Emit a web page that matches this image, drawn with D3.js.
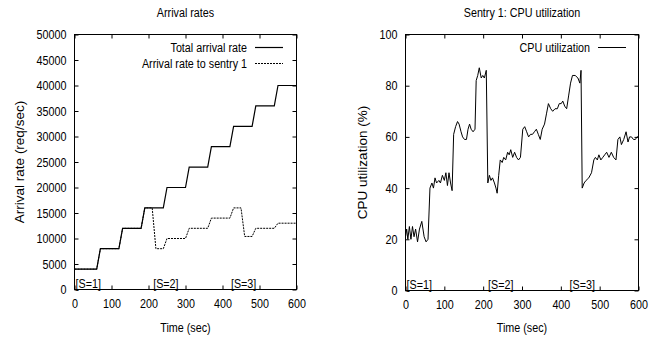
<!DOCTYPE html>
<html>
<head>
<meta charset="utf-8">
<script src="https://cdn.jsdelivr.net/npm/d3@7"></script>
<style>
  body { margin: 0; background: #fff; }
  svg text { font-family: "Liberation Sans", Arial, sans-serif; fill: #000; }
</style>
</head>
<body>
<div id="chart"></div>
<script>
// Arrival rates (req/sec), corner points of the step curves
const totalTimes = [0, 60, 70, 120, 130, 180, 190, 240, 250, 300, 310, 360, 370, 420, 430, 480, 490, 540, 550, 600];
const totalRate = [4000, 4000, 8000, 8000, 12000, 12000, 16000, 16000, 20000, 20000, 24000, 24000, 28000, 28000, 32000, 32000, 36000, 36000, 40000, 40000];

const sentryTimes = [0, 60, 70, 120, 130, 180, 190, 210, 220, 240, 250, 300, 310, 360, 370, 420, 430, 450, 460, 480, 490, 540, 550, 600];
const sentryRate = [4000, 4000, 8000, 8000, 12000, 12000, 16000, 16000, 8000, 8000, 10000, 10000, 12000, 12000, 14000, 14000, 16000, 16000, 10400, 10400, 12000, 12000, 13000, 13000];

// Sentry 1 CPU utilization (%)
const cpuTimes = [0, 3, 6, 10, 14, 18, 22, 26, 31, 36, 42, 48, 53, 58, 63, 68, 72, 76, 80, 86, 90, 95, 100, 104, 108, 112, 116, 120,
  124, 129, 134, 138, 143, 147, 152, 157, 161, 165, 169, 174, 179, 182, 186, 190, 195, 199, 203, 208,
  212, 216, 220, 224, 229, 233, 236, 240, 244, 249, 253, 258, 263, 267, 271, 276, 281, 286, 291, 296,
  302, 307, 312, 317, 322, 327, 332, 337, 342, 347, 352, 358, 363, 368, 374, 379, 385, 391, 396, 401, 405, 410, 415,
  420, 425, 430, 437, 444, 449, 452, 455, 460, 465, 472, 479, 485, 489, 494, 498, 503, 508, 513, 518, 524, 530, 536, 542,
  547, 552, 556, 562, 568, 573, 577, 582, 587, 592, 596, 600];
const cpuUtil = [21, 24, 20, 25, 20, 25, 21, 24, 19, 24, 27, 21, 19, 20, 40, 42, 40, 44, 42, 43, 42, 45, 43, 46, 41, 46, 42, 39,
  61, 64, 66, 65, 62, 60, 59, 59, 63, 65, 63, 62, 63, 82, 84, 87, 83, 84, 83, 86,
  42, 45, 43, 44, 42, 40, 38, 45, 51, 50, 52, 51, 54, 53, 55, 52, 54, 52, 51, 52,
  63, 64, 62, 60, 61, 61, 62, 63, 61, 59, 63, 65, 69, 73, 71, 70, 71, 71, 73, 73, 74, 72, 71,
  76, 81, 84, 84, 83, 81, 86, 40, 42, 43, 44, 46, 51, 52, 51, 53, 51, 52, 53, 54, 52, 54, 52, 51,
  59, 60, 57, 59, 62, 58, 60, 60, 59, 59, 60, 60];

// Phase labels along the bottom
const phaseLabels = ["[S=1]", "[S=2]", "[S=3]"];
const phaseTimes = [0, 210, 420];

const xTicks = [0, 100, 200, 300, 400, 500, 600];
const rateTicks = d3.range(0, 50001, 5000);
const cpuTicks = [0, 20, 40, 60, 80, 100];

const width = 665, height = 341;
const fontSize = "12.5px";
const svg = d3.select("#chart").append("svg")
  .attr("width", width)
  .attr("height", height);

function panel(o) {
  const x = d3.scaleLinear().domain([0, 600]).range([o.left, o.right]);
  const y = d3.scaleLinear().domain(o.yDomain).range([o.bottom, o.top]);
  const g = svg.append("g");

  // inward ticks on all four sides (gnuplot style)
  const tl = 4;
  g.append("g").attr("transform", `translate(0,${o.bottom})`)
    .call(d3.axisBottom(x).tickValues(xTicks).tickSizeInner(-tl).tickSizeOuter(0).tickPadding(10))
    .call(a => a.select(".domain").remove())
    .selectAll("text").style("font-size", fontSize);
  g.append("g").attr("transform", `translate(0,${o.top})`)
    .call(d3.axisTop(x).tickValues(xTicks).tickSizeInner(-tl).tickSizeOuter(0).tickFormat(""))
    .call(a => a.select(".domain").remove());
  g.append("g").attr("transform", `translate(${o.left},0)`)
    .call(d3.axisLeft(y).tickValues(o.yTicks).tickSizeInner(-tl).tickSizeOuter(0).tickPadding(8).tickFormat(d3.format("d")))
    .call(a => a.select(".domain").remove())
    .selectAll("text").style("font-size", fontSize);
  g.append("g").attr("transform", `translate(${o.right},0)`)
    .call(d3.axisRight(y).tickValues(o.yTicks).tickSizeInner(-tl).tickSizeOuter(0).tickFormat(""))
    .call(a => a.select(".domain").remove());

  g.append("rect")
    .attr("x", o.left).attr("y", o.top)
    .attr("width", o.right - o.left).attr("height", o.bottom - o.top)
    .attr("fill", "none").attr("stroke", "#000").attr("stroke-width", 1);

  // series
  const line = d3.line().x(d => x(d[0])).y(d => y(d[1]));
  o.series.forEach(s => {
    g.append("path")
      .datum(d3.zip(s.times, s.values))
      .attr("d", line)
      .attr("fill", "none")
      .attr("stroke", "#000")
      .attr("stroke-width", s.width)
      .attr("stroke-dasharray", s.dash || null);
  });

  // phase labels
  g.selectAll(".phase").data(phaseLabels).enter().append("text")
    .attr("class", "phase")
    .attr("x", (d, i) => x(phaseTimes[i]) + 1)
    .attr("y", o.bottom - 2)
    .style("font-size", fontSize)
    .text(d => d);

  // legend
  o.series.forEach((s, i) => {
    const ly = o.top + 13 + i * 16;
    g.append("text")
      .attr("x", o.legendX)
      .attr("y", ly + 4)
      .attr("text-anchor", "end")
      .style("font-size", fontSize)
      .text(s.name);
    g.append("line")
      .attr("x1", o.legendX + 8).attr("x2", o.legendX + 36)
      .attr("y1", ly).attr("y2", ly)
      .attr("stroke", "#000")
      .attr("stroke-width", s.width)
      .attr("stroke-dasharray", s.dash || null);
  });

  // titles
  g.append("text")
    .attr("x", (o.left + o.right) / 2).attr("y", 17)
    .attr("text-anchor", "middle")
    .style("font-size", fontSize)
    .text(o.title);
  g.append("text")
    .attr("x", (o.left + o.right) / 2).attr("y", 332)
    .attr("text-anchor", "middle")
    .style("font-size", fontSize)
    .text("Time (sec)");
  g.append("text")
    .attr("class", "ylabel")
    .attr("transform", `translate(${o.yLabelX},${(o.top + o.bottom) / 2}) rotate(-90)`)
    .attr("text-anchor", "middle")
    .style("font-size", "13.5px")
    .text(o.yLabel);
}

panel({
  left: 74.5, right: 296.5, top: 34.5, bottom: 289.5,
  yDomain: [0, 50000], yTicks: rateTicks,
  title: "Arrival rates", yLabel: "Arrival rate  (req/sec)", yLabelX: 24,
  legendX: 247,
  series: [
    { name: "Total arrival rate", times: totalTimes, values: totalRate, width: 1.2 },
    { name: "Arrival rate to sentry 1", times: sentryTimes, values: sentryRate, width: 1, dash: "2,1" }
  ]
});

panel({
  left: 405.5, right: 638.5, top: 34.5, bottom: 290.5,
  yDomain: [0, 100], yTicks: cpuTicks,
  title: "Sentry 1: CPU utilization", yLabel: "CPU utilization  (%)", yLabelX: 367,
  legendX: 590,
  series: [
    { name: "CPU utilization", times: cpuTimes, values: cpuUtil, width: 1 }
  ]
});

// the original uses a narrow Helvetica; squeeze the horizontal labels
svg.selectAll("text:not(.ylabel)").each(function () {
  const w = this.getComputedTextLength();
  if (w > 0) {
    d3.select(this)
      .attr("textLength", (w * 0.86).toFixed(1))
      .attr("lengthAdjust", "spacingAndGlyphs");
  }
});
</script>
</body>
</html>
